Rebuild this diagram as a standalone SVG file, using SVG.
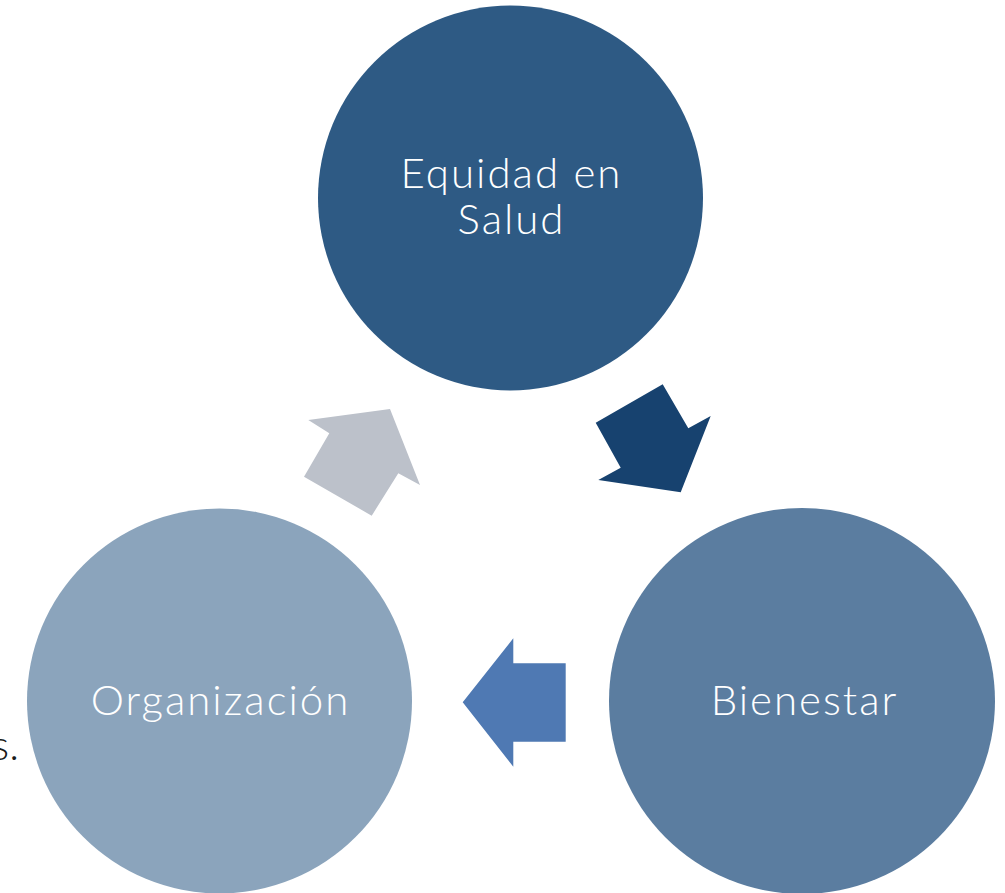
<svg xmlns="http://www.w3.org/2000/svg" width="1005" height="893" viewBox="0 0 1005 893">
<style>
.lbl{font-family:"Lato","Open Sans","Liberation Sans",sans-serif;font-weight:300;font-size:42px;fill:#ffffff;text-anchor:middle;letter-spacing:2px}
.side{font-family:"Lato","Open Sans","Liberation Sans",sans-serif;font-weight:300;font-size:42px;fill:#1a1a1a;text-anchor:end}
</style>
<rect width="1005" height="893" fill="#ffffff"/>
<text class="side" x="19" y="760">s.</text>
<g id="node-equidad">
<circle cx="510.5" cy="198" r="192.5" fill="#2E5A84"/>
<text class="lbl" x="511.5" y="188">Equidad en</text>
<text class="lbl" x="511.5" y="234">Salud</text>
</g>
<g id="node-bienestar">
<circle cx="802" cy="701" r="193" fill="#5B7DA0"/>
<text class="lbl" x="804.5" y="715">Bienestar</text>
</g>
<g id="node-organizacion">
<circle cx="219.5" cy="701" r="192.5" fill="#8BA4BC"/>
<text class="lbl" x="220.5" y="715">Organización</text>
</g>
<g id="connectors">
<polygon points="595.7,422.7 662.7,384.3 688.3,428.3 710.7,416 680.7,492.3 598.3,480 620.7,467.7" fill="#17426F"/>
<polygon points="462.7,702.3 513.3,638.3 513.3,663.3 565.7,663.3 565.7,741.7 513.3,741.7 513.3,766.7" fill="#4F79B3"/>
<polygon points="308.3,420 390,409 420,485 398.3,473.3 371.7,515.7 304,476.7 329.3,433.3" fill="#BCC1CA"/>
</g>
</svg>
